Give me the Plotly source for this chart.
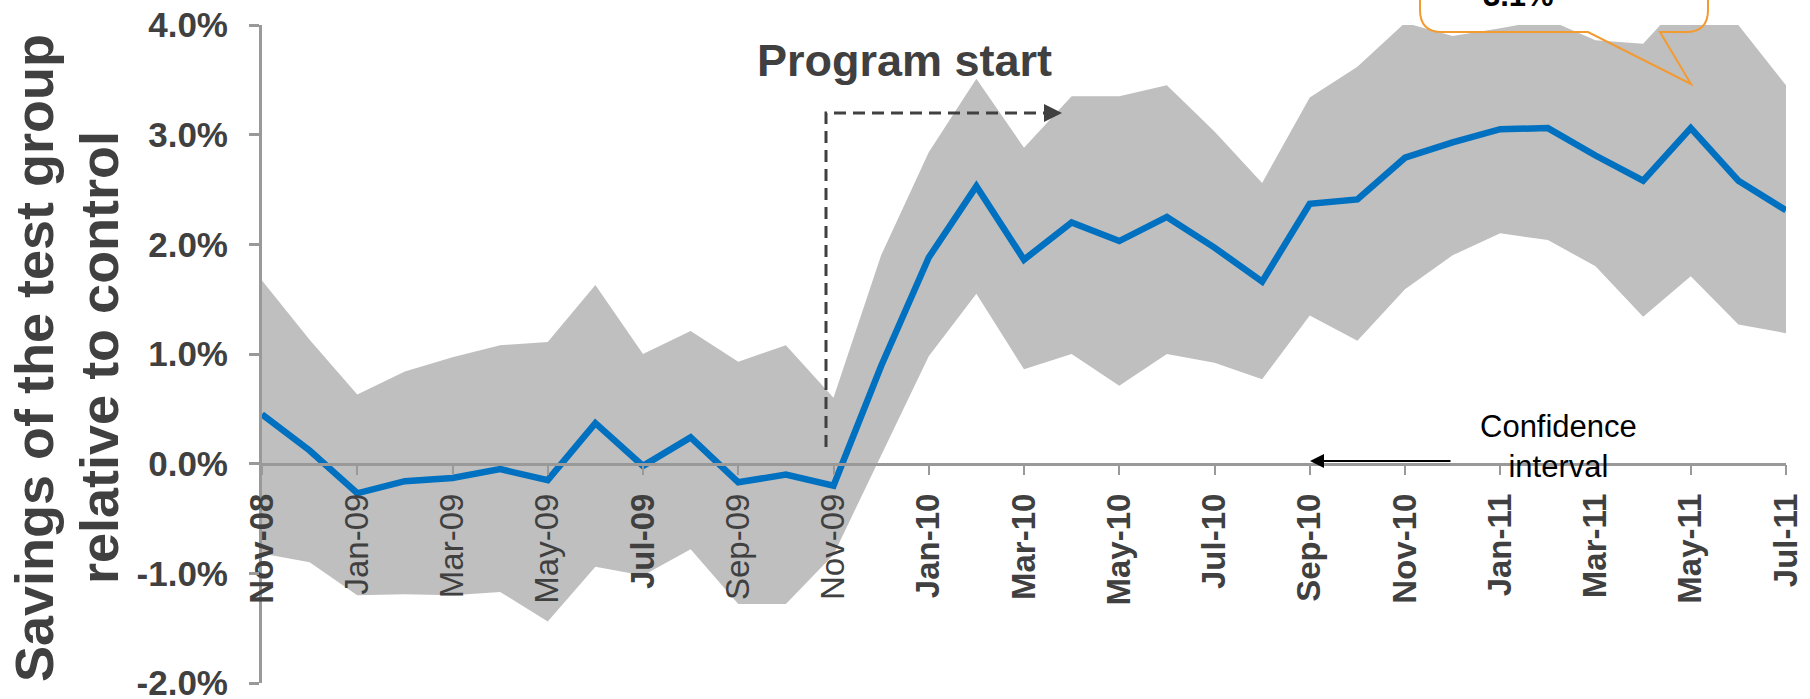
import plotly.graph_objects as go

# monthly savings of the test group vs control, in percent
months = [
    "Nov-08", "Dec-08", "Jan-09", "Feb-09", "Mar-09", "Apr-09", "May-09", "Jun-09",
    "Jul-09", "Aug-09", "Sep-09", "Oct-09", "Nov-09", "Dec-09", "Jan-10", "Feb-10",
    "Mar-10", "Apr-10", "May-10", "Jun-10", "Jul-10", "Aug-10", "Sep-10", "Oct-10",
    "Nov-10", "Dec-10", "Jan-11", "Feb-11", "Mar-11", "Apr-11", "May-11", "Jun-11",
    "Jul-11",
]
savings = [
    0.45, 0.12, -0.27, -0.16, -0.13, -0.05, -0.15, 0.37,
    -0.02, 0.24, -0.17, -0.10, -0.20, 0.89, 1.88, 2.53,
    1.86, 2.20, 2.03, 2.25, 1.97, 1.66, 2.37, 2.41,
    2.79, 2.93, 3.05, 3.06, 2.81, 2.58, 3.06, 2.58,
    2.31,
]
upper = [
    1.67, 1.13, 0.63, 0.84, 0.97, 1.08, 1.11, 1.63,
    1.00, 1.21, 0.93, 1.08, 0.60, 1.90, 2.84, 3.51,
    2.88, 3.35, 3.35, 3.45, 3.03, 2.56, 3.34, 3.62,
    4.02, 3.90, 3.97, 4.05, 3.86, 3.83, 4.30, 4.00,
    3.45,
]
lower = [
    -0.82, -0.90, -1.20, -1.19, -1.20, -1.17, -1.44, -0.94,
    -1.02, -0.78, -1.28, -1.28, -0.83, 0.07, 0.98, 1.55,
    0.86, 1.00, 0.71, 1.00, 0.92, 0.77, 1.35, 1.12,
    1.59, 1.90, 2.10, 2.04, 1.80, 1.34, 1.71, 1.27,
    1.19,
]

y_ticks = [-2, -1, 0, 1, 2, 3, 4]
y_tick_labels = ["-2.0%", "-1.0%", "0.0%", "1.0%", "2.0%", "3.0%", "4.0%"]
x_ticks = months[::2]
light_ticks = {"Jan-09", "Mar-09", "May-09", "Sep-09", "Nov-09"}
x_tick_labels = [m if m in light_ticks else "<b>%s</b>" % m for m in x_ticks]

FONT = "Liberation Sans, Arial, sans-serif"
DARK = "#404040"
AXIS = "#999999"

W, H = 1810, 699
L, R, T, B = 262, 24, 25, 16


def px(x):
    return (x - L) / (W - L - R)


def py(y):
    return (H - B - y) / (H - T - B)


fig = go.Figure()

# confidence band
fig.add_trace(go.Scatter(
    x=months, y=lower, mode="lines", line=dict(width=0),
    showlegend=False, hoverinfo="skip"
))
fig.add_trace(go.Scatter(
    x=months, y=upper, mode="lines", line=dict(width=0),
    fill="tonexty", fillcolor="#BFBFBF",
    showlegend=False, hoverinfo="skip"
))

# savings line
fig.add_trace(go.Scatter(
    x=months, y=savings, mode="lines",
    line=dict(color="#0070C0", width=6.5),
    showlegend=False
))

# callout bubble (top cut off by the page edge)
bl, br, bb, bt, rad = 1420, 1708, 32, -60, 22
bubble = (
    f"M {px(bl)},{py(bt)} L {px(bl)},{py(bb - rad)} "
    f"Q {px(bl)},{py(bb)} {px(bl + rad)},{py(bb)} "
    f"L {px(1588)},{py(bb)} L {px(1691)},{py(84)} L {px(1660)},{py(bb)} "
    f"L {px(br - rad)},{py(bb)} Q {px(br)},{py(bb)} {px(br)},{py(bb - rad)} "
    f"L {px(br)},{py(bt)} Z"
)

shapes = [
    dict(type="path", xref="paper", yref="paper",
         path=f"M {px(826)},{py(447)} L {px(826)},{py(113)} L {px(1050)},{py(113)}",
         line=dict(color=DARK, width=3, dash="12px,7px"), layer="above"),
    dict(type="path", xref="paper", yref="paper", path=bubble,
         line=dict(color="#F39A30", width=2), fillcolor="rgba(0,0,0,0)",
         layer="above"),
]

annotations = [
    dict(text="Savings of the test group", textangle=-90,
         xref="paper", yref="paper", x=px(34), y=py(358),
         xanchor="center", yanchor="middle", showarrow=False,
         font=dict(family=FONT, size=54, color=DARK, weight="bold")),
    dict(text="relative to control", textangle=-90,
         xref="paper", yref="paper", x=px(99), y=py(358),
         xanchor="center", yanchor="middle", showarrow=False,
         font=dict(family=FONT, size=54, color=DARK, weight="bold")),
    dict(text="Program start", xref="paper", yref="paper",
         x=px(904), y=py(60), xanchor="center", yanchor="middle",
         showarrow=False,
         font=dict(family=FONT, size=45, color=DARK, weight="bold")),
    dict(text="", xref="paper", yref="paper", x=px(1062), y=py(113),
         ax=-18, ay=0, showarrow=True, arrowhead=2, arrowsize=1.2,
         arrowwidth=3, arrowcolor=DARK),
    dict(text="Confidence<br>interval", xref="paper", yref="paper",
         x=px(1558), y=py(446), xanchor="center", yanchor="middle",
         showarrow=False,
         font=dict(family=FONT, size=31, color="#000000")),
    dict(text="", xref="paper", yref="paper", x=px(1310), y=py(461),
         ax=142, ay=0, showarrow=True, arrowhead=2, arrowsize=1.4,
         arrowwidth=2, arrowcolor="#000000"),
    dict(text="3.1%", xref="paper", yref="paper",
         x=px(1518), y=py(-4), xanchor="center", yanchor="middle",
         showarrow=False,
         font=dict(family=FONT, size=31, color="#000000", weight="bold")),
]

fig.update_layout(
    width=W, height=H,
    margin=dict(l=L, r=R, t=T, b=B),
    paper_bgcolor="white", plot_bgcolor="white",
    showlegend=False,
    shapes=shapes,
    annotations=annotations,
    xaxis=dict(
        type="category", range=[0, len(months) - 1],
        anchor="free", position=1 / 3, automargin=False,
        showline=True, linecolor=AXIS, linewidth=2.5,
        ticks="outside", ticklen=10, tickwidth=2, tickcolor=AXIS,
        tickmode="array", tickvals=x_ticks, ticktext=x_tick_labels,
        tickangle=-90, ticklabelstandoff=5,
        tickfont=dict(family=FONT, size=33, color=DARK),
        showgrid=False, zeroline=False,
    ),
    yaxis=dict(
        range=[-2, 4], domain=[0, 1], automargin=False,
        showline=True, linecolor=AXIS, linewidth=3,
        ticks="outside", ticklen=10, tickwidth=3, tickcolor=AXIS,
        tickmode="array", tickvals=y_ticks, ticktext=y_tick_labels,
        ticklabelstandoff=14, ticklabeloverflow="allow",
        tickfont=dict(family=FONT, size=35, color=DARK, weight="bold"),
        showgrid=False, zeroline=False,
    ),
)

# drop the browser's default page margin so the figure sits at the corner
fig.write_html(
    "out.html",
    config={"displayModeBar": False},
    post_script="document.body.style.margin='0';",
)
